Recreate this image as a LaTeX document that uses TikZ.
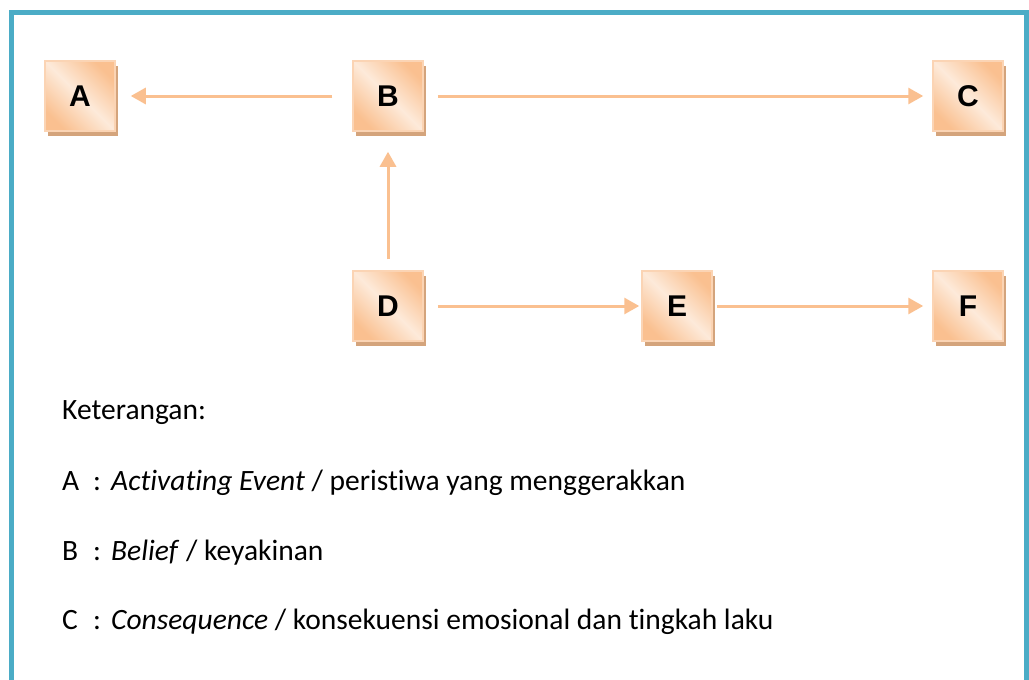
\documentclass[tikz,border=0pt]{standalone}
\usepackage{fontspec}
\setmainfont[Ligatures=NoCommon]{Carlito}
\newfontfamily\boxfont{Liberation Sans}
\usetikzlibrary{arrows.meta,shadows}
\definecolor{frameblue}{HTML}{4BACC6}
\definecolor{boxorange}{HTML}{FAC090}
\definecolor{boxlight}{HTML}{FDEADA}
\definecolor{boxedge}{HTML}{FBD4B4}
\definecolor{shadowtan}{HTML}{D4A47C}
\tikzset{
  cbox/.style={draw=boxedge, line width=1.5pt, minimum size=70pt, inner sep=0pt,
    top color=boxorange, bottom color=boxorange, middle color=boxlight, shading angle=-45,
    drop shadow={shadow xshift=3pt, shadow yshift=-5pt, fill=shadowtan, opacity=1},
    font=\boxfont\bfseries\fontsize{30}{34}\selectfont},
  flow/.style={draw=boxorange, line width=3pt, -{Triangle[length=15pt,width=16pt]}},
  legend/.style={anchor=base west, inner sep=0pt, font=\fontsize{29.5}{34}\selectfont}
}
\begin{document}
\begin{tikzpicture}[x=1pt,y=-1pt]
 \useasboundingbox (0,0) rectangle (1029,680);
 % frame
 \draw[frameblue, line width=5pt] (11.5,680) -- (11.5,12.5) -- (1026.5,12.5) -- (1026.5,680);
 % boxes
 \node[cbox] (A) at (80,96) {A};
 \node[cbox] (B) at (388,96) {B};
 \node[cbox] (C) at (968,96) {C};
 \node[cbox] (D) at (388,306) {D};
 \node[cbox] (E) at (677,306) {E};
 \node[cbox] (F) at (968,306) {F};
 % arrows
 \draw[flow, shorten <=20pt, shorten >=15pt] (B) -- (A);
 \draw[flow, shorten <=14pt, shorten >=9pt] (B) -- (C);
 \draw[flow, shorten <=11pt, shorten >=20pt] (D) -- (B);
 \draw[flow, shorten <=14pt, shorten >=2pt] (D) -- (E);
 \draw[flow, shorten <=4pt, shorten >=9pt] (E) -- (F);
 % legend
 \node[legend] (ket) at (62,419) {Keterangan:};
 \node[legend] (la) at (62,490) {A};
 \node[legend] (ca) at (93,490) {:};
 \node[legend] (ta) at (111,490) {\textit{Activating Event} / peristiwa yang menggerakkan};
 \node[legend] (lb) at (62,560) {B};
 \node[legend] (cb) at (93,560) {:};
 \node[legend] (tb) at (111,560) {\textit{Belief} / keyakinan};
 \node[legend] (lc) at (62,629) {C};
 \node[legend] (cc) at (93,629) {:};
 \node[legend] (tc) at (111,629) {\textit{Consequence} / konsekuensi emosional dan tingkah laku};
\end{tikzpicture}
\end{document}
